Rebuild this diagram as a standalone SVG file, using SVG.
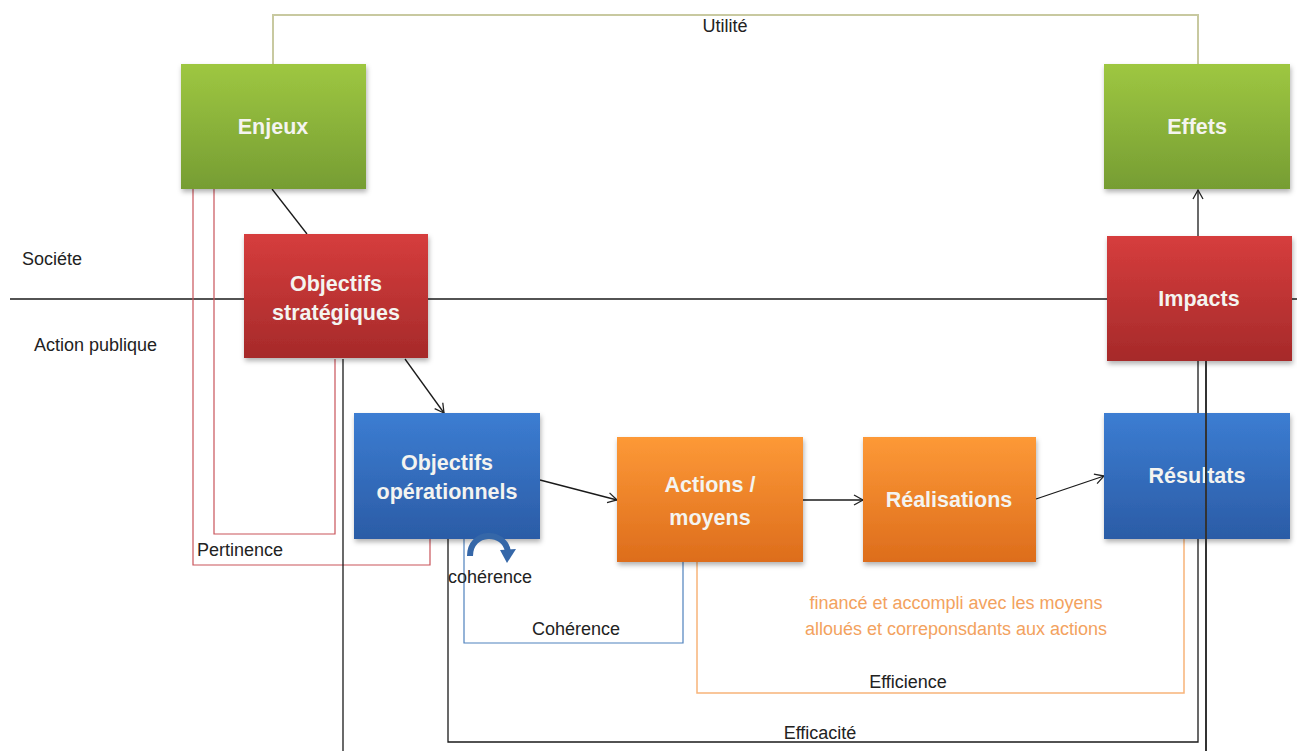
<svg xmlns="http://www.w3.org/2000/svg" width="1297" height="751" viewBox="0 0 1297 751">
<defs>
<linearGradient id="gGreen" x1="0" y1="0" x2="0" y2="1"><stop offset="0" stop-color="#9ec741"/><stop offset="1" stop-color="#769d33"/></linearGradient>
<linearGradient id="gRed" x1="0" y1="0" x2="0" y2="1"><stop offset="0" stop-color="#d63d3d"/><stop offset="1" stop-color="#a62a2a"/></linearGradient>
<linearGradient id="gBlue" x1="0" y1="0" x2="0" y2="1"><stop offset="0" stop-color="#3c7dd2"/><stop offset="1" stop-color="#2b5ca6"/></linearGradient>
<linearGradient id="gOrange" x1="0" y1="0" x2="0" y2="1"><stop offset="0" stop-color="#fd9937"/><stop offset="1" stop-color="#dd6d1c"/></linearGradient>
<filter id="sh" x="-10%" y="-10%" width="125%" height="125%"><feDropShadow dx="1" dy="3" stdDeviation="2.5" flood-color="#000" flood-opacity="0.3"/></filter>
<marker id="arr" markerWidth="12" markerHeight="12" refX="10" refY="6" orient="auto" markerUnits="userSpaceOnUse"><path d="M1,1 L10,6 L1,11" fill="none" stroke="#222" stroke-width="1.3"/></marker>
</defs>
<style>
.box text{font-family:"Liberation Sans",Arial,sans-serif;font-weight:bold;font-size:21.5px;fill:#f4f4f0;text-anchor:middle}
.lbl{font-family:"Liberation Sans",Arial,sans-serif;font-size:18px;fill:#222}
.org{font-family:"Liberation Sans",Arial,sans-serif;font-size:18px;fill:#f3a25e;text-anchor:middle}
.k{fill:none;stroke:#1a1a1a;stroke-width:1.3}
</style>
<rect width="1297" height="751" fill="#fff"/>

<g id="connectors">
<polyline points="273,64 273,15 1198,15 1198,64" fill="none" stroke="#c8c9a0" stroke-width="2"/>
<line x1="10" y1="299" x2="1297" y2="299" class="k"/>
<polyline points="193,189 193,565 430,565 430,539" fill="none" stroke="#c9545a" stroke-width="1.2"/>
<polyline points="214,189 214,534 335,534 335,359" fill="none" stroke="#c9545a" stroke-width="1.2"/>
<line x1="343" y1="359" x2="343" y2="751" class="k"/>
<polyline points="448,539 448,742 1198,742 1198,361" class="k"/>
<polyline points="464,539 464,643 683,643 683,562" fill="none" stroke="#4f81bd" stroke-width="1.2"/>
<polyline points="697,562 697,693 1184,693 1184,539" fill="none" stroke="#f8b47a" stroke-width="1.5"/>
<line x1="272" y1="189" x2="307" y2="234" class="k"/>
<line x1="405" y1="359" x2="444" y2="413" class="k" marker-end="url(#arr)"/>
<line x1="540" y1="480" x2="617" y2="500" class="k" marker-end="url(#arr)"/>
<line x1="803" y1="500" x2="863" y2="500" class="k" marker-end="url(#arr)"/>
<line x1="1036" y1="499" x2="1104" y2="476" class="k" marker-end="url(#arr)"/>
<line x1="1198" y1="236" x2="1198" y2="190" class="k" marker-end="url(#arr)"/>
</g>

<g id="enjeux" class="box"><rect x="181" y="64" width="185" height="125" fill="url(#gGreen)" filter="url(#sh)"/><text x="273" y="134">Enjeux</text></g>
<g id="effets" class="box"><rect x="1104" y="64" width="186" height="125" fill="url(#gGreen)" filter="url(#sh)"/><text x="1197" y="134">Effets</text></g>
<g id="objectifs-strategiques" class="box"><rect x="244" y="234" width="184" height="124" fill="url(#gRed)" filter="url(#sh)"/><text x="336" y="291">Objectifs</text><text x="336" y="320">stratégiques</text></g>
<g id="impacts" class="box"><rect x="1107" y="236" width="185" height="125" fill="url(#gRed)" filter="url(#sh)"/><text x="1199" y="306">Impacts</text></g>
<g id="objectifs-operationnels" class="box"><rect x="354" y="413" width="186" height="126" fill="url(#gBlue)" filter="url(#sh)"/><text x="447" y="470">Objectifs</text><text x="447" y="499">opérationnels</text></g>
<g id="actions-moyens" class="box"><rect x="617" y="437" width="186" height="125" fill="url(#gOrange)" filter="url(#sh)"/><text x="710" y="492">Actions /</text><text x="710" y="525">moyens</text></g>
<g id="realisations" class="box"><rect x="863" y="437" width="173" height="125" fill="url(#gOrange)" filter="url(#sh)"/><text x="949" y="507">Réalisations</text></g>
<g id="resultats" class="box"><rect x="1104" y="413" width="186" height="126" fill="url(#gBlue)" filter="url(#sh)"/><text x="1197" y="483">Résultats</text></g>

<g id="overlay-lines">
<line x1="1206" y1="361" x2="1206" y2="751" stroke="#333" stroke-width="2"/>
<path d="M470,556 C470,530 505,530 508,552" fill="none" stroke="#3567a8" stroke-width="6"/>
<path d="M500,550 L516,549 L507,563 Z" fill="#3567a8"/>
</g>

<g id="labels">
<text class="lbl" x="725" y="32" text-anchor="middle" fill="#333">Utilité</text>
<text class="lbl" x="22" y="265">Sociéte</text>
<text class="lbl" x="34" y="351">Action publique</text>
<text class="lbl" x="197" y="556">Pertinence</text>
<text class="lbl" x="448" y="583">cohérence</text>
<text class="lbl" x="576" y="635" text-anchor="middle">Cohérence</text>
<text class="lbl" x="908" y="688" text-anchor="middle">Efficience</text>
<text class="lbl" x="820" y="739" text-anchor="middle">Efficacité</text>
<text class="org" x="956" y="609">financé et accompli avec les moyens</text>
<text class="org" x="956" y="635">alloués et correponsdants aux actions</text>
</g>
</svg>
